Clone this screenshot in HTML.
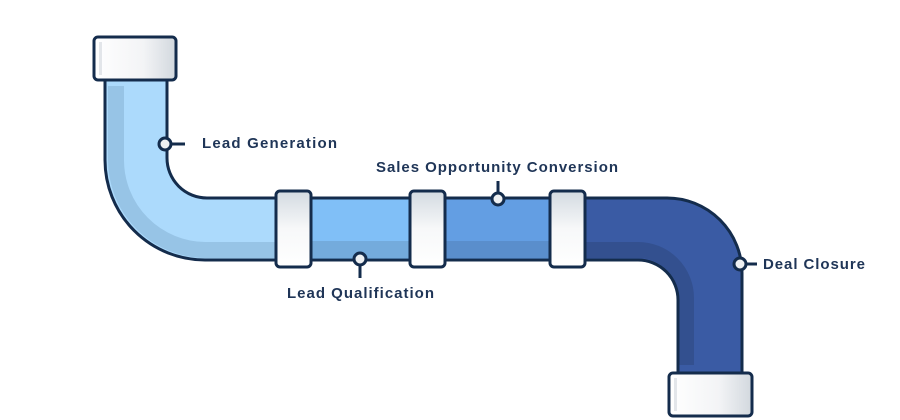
<!DOCTYPE html>
<html><head><style>
html,body{margin:0;padding:0;background:#fff;width:900px;height:420px;overflow:hidden}
text{font-family:"Liberation Sans",sans-serif;font-weight:bold;fill:#1f3557;font-size:15px}
</style></head><body>
<svg width="900" height="420" viewBox="0 0 900 420" xmlns="http://www.w3.org/2000/svg">
<defs>
<linearGradient id="cap" x1="0" y1="0" x2="1" y2="0">
<stop offset="0" stop-color="#ffffff"/><stop offset="0.6" stop-color="#f3f4f6"/><stop offset="1" stop-color="#d2d8de"/>
</linearGradient>
<linearGradient id="cpl" x1="0" y1="0" x2="0" y2="1">
<stop offset="0" stop-color="#d3dae1"/><stop offset="0.5" stop-color="#f7f8f9"/><stop offset="1" stop-color="#ffffff"/>
</linearGradient>
<clipPath id="c1"><path d="M105,80 L105,160 A100,100 0 0 0 205,260 L290,260 L290,198 L207,198 A40,40 0 0 1 167,158 L167,80 Z"/></clipPath>
<clipPath id="c4"><path d="M570,198 L667,198 A75,75 0 0 1 742,273 L742,380 L678,380 L678,300 A40,40 0 0 0 638,260 L570,260 Z"/></clipPath>
</defs>
<rect x="290" y="198" width="135" height="62" fill="#80bff7"/>
<rect x="290" y="241" width="135" height="17" fill="#74abdc"/>
<rect x="425" y="198" width="145" height="62" fill="#639ee3"/>
<rect x="425" y="241" width="145" height="17" fill="#5a8ecc"/>
<line x1="290" y1="198" x2="570" y2="198" stroke="#142c4c" stroke-width="3"/>
<line x1="290" y1="260" x2="570" y2="260" stroke="#142c4c" stroke-width="3"/>
<g clip-path="url(#c1)">
<path d="M105,80 L105,160 A100,100 0 0 0 205,260 L290,260 L290,198 L207,198 A40,40 0 0 1 167,158 L167,80 Z" fill="#acdafc"/>
<path d="M116,86 L116,160 A90,90 0 0 0 205,250 L295,250" fill="none" stroke="#97c4e6" stroke-width="16"/>
</g>
<path d="M105,80 L105,160 A100,100 0 0 0 205,260 L290,260 M290,198 L207,198 A40,40 0 0 1 167,158 L167,80" fill="none" stroke="#142c4c" stroke-width="3"/>
<g clip-path="url(#c4)">
<path d="M570,198 L667,198 A75,75 0 0 1 742,273 L742,380 L678,380 L678,300 A40,40 0 0 0 638,260 L570,260 Z" fill="#3a5ba4"/>
<path d="M565,250 L638,250 A48,48 0 0 1 686,298 L686,365" fill="none" stroke="#33508f" stroke-width="16"/>
</g>
<path d="M570,198 L667,198 A75,75 0 0 1 742,273 L742,380 M678,380 L678,300 A40,40 0 0 0 638,260 L570,260" fill="none" stroke="#142c4c" stroke-width="3"/>
<rect x="94" y="37" width="82" height="43" rx="4" fill="url(#cap)" stroke="#142c4c" stroke-width="3"/>
<rect x="99" y="42" width="3" height="33" fill="#e3e6ea"/>
<rect x="669" y="373" width="83" height="43" rx="4" fill="url(#cap)" stroke="#142c4c" stroke-width="3"/>
<rect x="674" y="378" width="3" height="33" fill="#e3e6ea"/>
<rect x="276" y="191" width="35" height="76" rx="4" fill="url(#cpl)" stroke="#142c4c" stroke-width="3"/>
<rect x="410" y="191" width="35" height="76" rx="4" fill="url(#cpl)" stroke="#142c4c" stroke-width="3"/>
<rect x="550" y="191" width="35" height="76" rx="4" fill="url(#cpl)" stroke="#142c4c" stroke-width="3"/>
<g stroke="#142c4c" stroke-width="3" fill="#eef0f2">
<line x1="165" y1="144" x2="185" y2="144"/><circle cx="165" cy="144" r="6"/>
<line x1="360" y1="259" x2="360" y2="278"/><circle cx="360" cy="259" r="6"/>
<line x1="498" y1="181" x2="498" y2="199"/><circle cx="498" cy="199" r="6"/>
<line x1="740" y1="264" x2="757" y2="264"/><circle cx="740" cy="264" r="6"/>
</g>
<text x="202" y="148" textLength="135" lengthAdjust="spacing">Lead Generation</text>
<text x="287" y="298" textLength="147" lengthAdjust="spacing">Lead Qualification</text>
<text x="376" y="172" textLength="242" lengthAdjust="spacing">Sales Opportunity Conversion</text>
<text x="763" y="269" textLength="102" lengthAdjust="spacing">Deal Closure</text>
</svg>
</body></html>
